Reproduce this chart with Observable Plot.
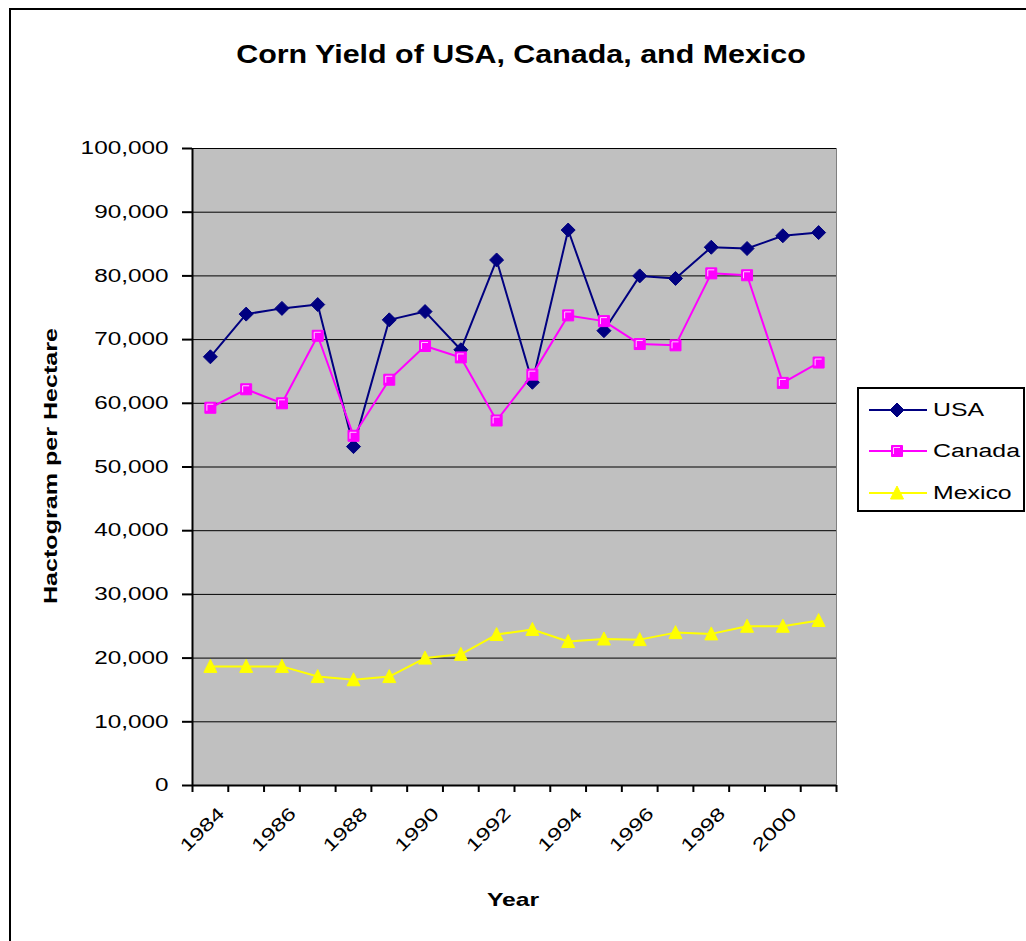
<!DOCTYPE html>
<html><head><meta charset="utf-8">
<script src="https://cdn.jsdelivr.net/npm/d3@7"></script>
<script src="https://cdn.jsdelivr.net/npm/@observablehq/plot@0.6"></script>
<style>
body{margin:0;background:#fff;}
#wrap{position:relative;width:1026px;height:941px;overflow:hidden;font-family:"Liberation Sans",Arial,sans-serif;background:#fff;}
#frame{position:absolute;left:9px;top:8px;width:1040px;height:960px;border:2px solid #000;box-sizing:border-box;}
#chart{position:absolute;left:0;top:0;}
.t{position:absolute;white-space:nowrap;color:#000;line-height:1;}
#legend{position:absolute;left:857px;top:387px;width:168px;height:125px;border:2px solid #000;box-sizing:border-box;background:#fff;}
</style></head><body><div id="wrap"><div id="frame"></div><div id="chart"></div></div>
<script>
// ---- data ----
const years = [1984,1985,1986,1987,1988,1989,1990,1991,1992,1993,1994,1995,1996,1997,1998,1999,2000,2001];
const usa    = [67300,74000,74900,75500,53200,73100,74400,68400,82500,63300,87200,71400,80000,79600,84500,84300,86300,86800];
const canada = [59300,62200,60000,70600,54900,63700,69000,67200,57300,64500,73800,72900,69300,69100,80400,80100,63200,66400];
const mexico = [18700,18700,18700,17100,16600,17100,20000,20600,23700,24500,22600,23000,22900,24000,23800,25000,25000,25900];
const seriesNames = ["USA","Canada","Mexico"];
const seriesValues = [usa, canada, mexico];
const seriesColors = ["#000080","#FF00FF","#FFFF00"];
const yTicks = [0,10000,20000,30000,40000,50000,60000,70000,80000,90000,100000];
const xLabelYears = [1984,1986,1988,1990,1992,1994,1996,1998,2000];
const titleText = "Corn Yield of USA, Canada, and Mexico";
const xTitle = "Year";
const yTitle = "Hactogram per Hectare";

// ---- symbols ----
const diamondSym = {draw(c){const r=7;c.moveTo(0,-r);c.lineTo(r,0);c.lineTo(0,r);c.lineTo(-r,0);c.closePath();}};
const squareSym  = {draw(c){const r=5.5;c.moveTo(-r,-r);c.lineTo(r,-r);c.lineTo(r,r);c.lineTo(-r,r);c.closePath();}};
const squareHi   = {draw(c){c.moveTo(-3.5,3);c.lineTo(-3.5,-3.5);c.lineTo(3,-3.5);}};
const triSym     = {draw(c){c.moveTo(0,-7);c.lineTo(6.5,6);c.lineTo(-6.5,6);c.closePath();}};
const seriesSyms = [diamondSym, squareSym, triSym];

const rows = [];
seriesNames.forEach((s,k)=>years.forEach((yr,i)=>rows.push({series:s, year:yr, value:seriesValues[k][i]})));
const boundaries = d3.range(years[0]-0.5, years[years.length-1]+1, 1);

const seriesMarks = [];
seriesNames.forEach((s,k)=>{
  const d = rows.filter(r=>r.series===s);
  seriesMarks.push(Plot.line(d,{x:"year",y:"value",stroke:seriesColors[k],strokeWidth:2}));
  seriesMarks.push(Plot.dot(d,{x:"year",y:"value",symbol:seriesSyms[k],fill:seriesColors[k],stroke:seriesColors[k],strokeWidth:1}));
  if (k===1) seriesMarks.push(Plot.dot(d,{x:"year",y:"value",symbol:squareHi,fill:"none",stroke:"#FFD0FF",strokeWidth:1}));
});

const plot = Plot.plot({
  width:1026, height:941,
  marginLeft:192, marginRight:190, marginTop:148, marginBottom:156,
  x:{type:"linear", domain:[years[0]-0.5, years[years.length-1]+0.5]},
  y:{domain:[0,100000]},
  style:{fontFamily:"Liberation Sans, Arial, sans-serif", fontSize:"18px", color:"#000", background:"transparent", overflow:"visible"},
  marks:[
    Plot.frame({fill:"#C0C0C0", stroke:"#808080"}),
    Plot.ruleY(yTicks.slice(1), {stroke:"#000", strokeWidth:1}),
    Plot.axisY({ticks:yTicks, tickSize:10, tickPadding:14, tickFormat:d3.format(","), strokeWidth:2, strokeOpacity:1, fontSize:18, label:null}),
    Plot.axisX({ticks:boundaries, tickSize:7, tickFormat:()=>"", strokeWidth:2, strokeOpacity:1, label:null}),
    Plot.text(xLabelYears, {x:d=>d, y:0, text:d=>String(d), rotate:-45, textAnchor:"end", dy:25, dx:11, fontSize:18}),
    Plot.ruleX([years[0]-0.5], {stroke:"#000", strokeWidth:2}),
    Plot.ruleY([0], {stroke:"#000", strokeWidth:2}),
    ...seriesMarks
  ]
});
document.getElementById("chart").appendChild(plot);
// widen glyphs along the baseline (reference text is stretched horizontally)
plot.querySelectorAll("text").forEach(t=>{
  const w = t.getComputedTextLength();
  if (w>0){ t.setAttribute("textLength", (w*1.35).toFixed(1)); t.setAttribute("lengthAdjust","spacingAndGlyphs"); }
});

const wrap = document.getElementById("wrap");
function addText(txt, css){ const d=document.createElement("div"); d.className="t"; d.textContent=txt; Object.assign(d.style, css); wrap.appendChild(d); return d; }
addText(titleText, {left:"521px", top:"54px", fontSize:"26px", fontWeight:"bold", transform:"translate(-50%,-50%) scaleX(1.17)"});
addText(xTitle, {left:"513px", top:"899px", fontSize:"19px", fontWeight:"bold", transform:"translate(-50%,-50%) scaleX(1.3)"});
addText(yTitle, {left:"50px", top:"466px", fontSize:"19px", fontWeight:"bold", transform:"translate(-50%,-50%) rotate(-90deg) scaleX(1.32)"});

// legend
const leg = document.createElement("div"); leg.id="legend"; wrap.appendChild(leg);
const lsvg = d3.select(leg).append("svg").attr("width",164).attr("height",121).style("position","absolute").style("left","0").style("top","0");
const entryY = [21, 62, 104];
seriesNames.forEach((s,k)=>{
  const g = lsvg.append("g").attr("transform",`translate(0,${entryY[k]})`);
  g.append("line").attr("x1",10).attr("x2",68).attr("y1",0).attr("y2",0).attr("stroke",seriesColors[k]).attr("stroke-width",2);
  g.append("path").attr("transform","translate(38,0)").attr("d",d3.symbol().type(seriesSyms[k])()).attr("fill",seriesColors[k]).attr("stroke",seriesColors[k]);
  if (k===1) g.append("path").attr("transform","translate(38,0)").attr("d",d3.symbol().type(squareHi)()).attr("fill","none").attr("stroke","#FFD0FF");
  g.append("text").attr("x",74).attr("y",0).attr("dy","0.36em").attr("font-family","Liberation Sans, Arial, sans-serif").attr("font-size",18).attr("transform","translate(74,0) scale(1.38,1) translate(-74,0)").text(s);
});
</script></body></html>
